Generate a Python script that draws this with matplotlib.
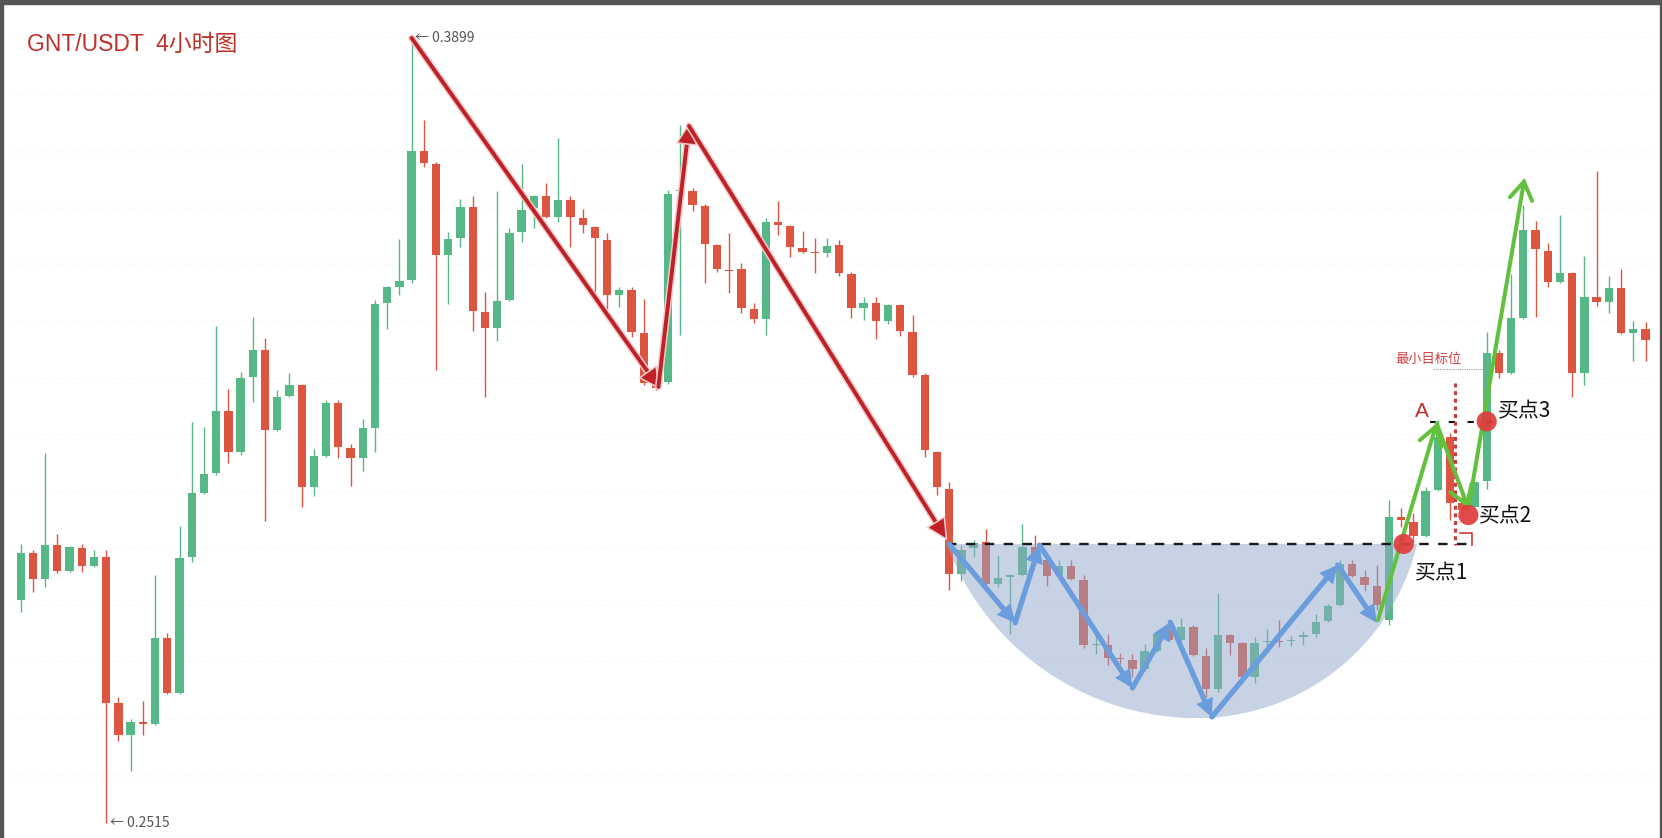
import matplotlib
matplotlib.use('Agg')
import matplotlib.pyplot as plt
import matplotlib.patheffects as pe
from matplotlib.patches import FancyArrowPatch, Polygon, Rectangle
import numpy as np

plt.rcParams['font.family'] = ['Noto Sans CJK SC', 'DejaVu Sans']

# GNT/USDT 4h candles
opens = [.2908, .2991, .2945, .3005, .2959, .3000, .2968, .2984, .2727, .2670,
         .2693, .2690, .2841, .2744, .2984, .3097, .3132, .3241, .3169, .3301,
         .3349, .3208, .3268, .3287, .3107, .3162, .3256, .3176, .3159, .3211,
         .3432, .3460, .3472, .3700, .3677, .3516, .3546, .3601, .3416, .3388,
         .3437, .3557, .3599, .3620, .3583, .3613, .3582, .3566, .3543, .3446,
         .3455, .3379, .3291, .3293, .3629, .3629, .3603, .3534, .3490, .3492,
         .3421, .3404, .3575, .3568, .3529, .3522, .3520, .3534, .3483, .3423,
         .3432, .3400, .3428, .3381, .3305, .3169, .3104, .2954, .3000, .3011,
         .2936, .2949, .2953, .3002, .2979, .2953, .2968, .2944, .2829, .2829,
         .2806, .2802, .2787, .2818, .2855, .2838, .2861, .2810, .2751, .2846,
         .2832, .2772, .2834, .2836, .2836, .2843, .2848, .2871, .2899, .2972,
         .2949, .2933, .2873, .3055, .3046, .3021, .3102, .3196, .3079, .3072,
         .3118, .3344, .3309, .3406, .3560, .3523, .3469, .3485, .3309, .3443,
         .3434, .3458, .3379, .3386]
highs = [.3007, .2996, .3167, .3025, .3003, .3007, .2996, .2996, .2737, .2698,
         .2730, .2952, .2850, .3039, .3222, .3213, .3391, .3280, .3310, .3407,
         .3370, .3278, .3308, .3289, .3175, .3261, .3261, .3183, .3227, .3437,
         .3462, .3545, .3899, .3754, .3680, .3557, .3615, .3620, .3451, .3629,
         .3564, .3677, .3622, .3643, .3723, .3620, .3598, .3568, .3555, .3460,
         .3460, .3439, .3296, .3631, .3746, .3635, .3606, .3536, .3555, .3502,
         .3432, .3582, .3612, .3570, .3559, .3546, .3546, .3543, .3487, .3442,
         .3442, .3430, .3430, .3411, .3309, .3171, .3116, .3005, .3014, .3033,
         .2988, .2953, .3042, .3023, .2981, .2979, .2979, .2953, .2848, .2848,
         .2815, .2813, .2831, .2854, .2873, .2876, .2864, .2824, .2921, .2848,
         .2834, .2843, .2857, .2873, .2845, .2854, .2884, .2901, .2979, .2979,
         .2961, .2970, .3085, .3070, .3062, .3107, .3226, .3203, .3093, .3118,
         .3381, .3349, .3483, .3605, .3576, .3538, .3587, .3487, .3515, .3665,
         .3479, .3492, .3400, .3399]
lows = [.2887, .2922, .2931, .2956, .2958, .2958, .2966, .2515, .2660, .2607,
        .2670, .2688, .2742, .2742, .2975, .3095, .3128, .3150, .3164, .3257,
        .3047, .3206, .3266, .3072, .3092, .3160, .3159, .3109, .3136, .3169,
        .3386, .3446, .3467, .3672, .3314, .3430, .3531, .3382, .3266, .3365,
        .3435, .3539, .3564, .3581, .3575, .3531, .3555, .3451, .3421, .3425,
        .3372, .3287, .3278, .3289, .3375, .3594, .3467, .3487, .3449, .3414,
        .3397, .3375, .3552, .3513, .3520, .3485, .3513, .3479, .3406, .3402,
        .3368, .3395, .3374, .3301, .3160, .3093, .2926, .2942, .2984, .2926,
        .2931, .2848, .2951, .2968, .2933, .2945, .2944, .2824, .2813, .2794,
        .2795, .2772, .2783, .2816, .2836, .2836, .2810, .2737, .2746, .2811,
        .2762, .2762, .2825, .2825, .2827, .2829, .2843, .2869, .2897, .2949,
        .2924, .2891, .2864, .3037, .3009, .3019, .3100, .3049, .3053, .3070,
        .3104, .3300, .3307, .3404, .3407, .3460, .3467, .3266, .3287, .3427,
        .3414, .3377, .3330, .3330]
closes = [.2991, .2945, .3005, .2959, .3002, .2968, .2984, .2727, .2670, .2693,
          .2690, .2841, .2744, .2982, .3097, .3130, .3241, .3169, .3300, .3349,
          .3208, .3266, .3287, .3107, .3162, .3256, .3178, .3159, .3211, .3430,
          .3460, .3471, .3700, .3679, .3516, .3545, .3601, .3418, .3388, .3435,
          .3555, .3596, .3620, .3583, .3613, .3583, .3569, .3546, .3446, .3455,
          .3381, .3291, .3282, .3624, .3631, .3605, .3536, .3492, .3488, .3423,
          .3404, .3575, .3569, .3531, .3522, .3520, .3532, .3485, .3423, .3432,
          .3400, .3428, .3382, .3305, .3173, .3107, .2954, .2996, .3009, .2936,
          .2947, .2951, .3002, .2980, .2951, .2968, .2945, .2829, .2831, .2806,
          .2804, .2787, .2818, .2848, .2838, .2861, .2811, .2751, .2846, .2832,
          .2772, .2832, .2836, .2834, .2838, .2846, .2869, .2898, .2972, .2951,
          .2935, .2899, .3055, .3049, .3021, .3100, .3196, .3079, .3067, .3116,
          .3344, .3309, .3406, .3560, .3527, .3469, .3485, .3309, .3443, .3434,
          .3458, .3379, .3386, .3367]

title = 'GNT/USDT  4小时图'
high_label = '← 0.3899'
low_label = '← 0.2515'
neck = 0.3007          # neckline of the cup
cup_low = 0.2700       # bottom of the bowl
a_level = 0.3222       # level of point A

# hand drawn swings (candle index, price)
red_path = [(32.0, 0.3899), (52.2, 0.3284), (54.7, 0.3744), (75.7, 0.3018)]
blue_path = [(76.0, 0.3007), (81.4, 0.2868), (83.4, 0.3005), (91.0, 0.2753),
             (94.1, 0.2869), (97.5, 0.2702), (107.8, 0.2970), (111.0, 0.2868)]
green_path = [(111.1, 0.2873), (115.9, 0.3220), (118.5, 0.3070), (123.1, 0.3652)]
buy_x = [113.2, 118.5, 120.0]
buy_y = [0.3007, 0.3058, 0.3223]
buy_text = ['买点1', '买点2', '买点3']

GREEN = '#55b886'
RED = '#dc5540'

fig = plt.figure(figsize=(16.62, 8.38), dpi=100)
ax = fig.add_axes([0, 0, 1, 1])
ax.set_xlim(-1.694, 134.35)
ax.set_ylim(0.24886, 0.3966)
ax.axis('off')

# faint price grid
for g in np.arange(0.26, 0.395, 0.01):
    ax.axhline(g, color='#f6f6f6', lw=0.8, ls=(0, (2, 3)), zorder=0)

# candles
x = np.arange(len(opens))
o = np.array(opens)
c = np.array(closes)
col = np.where(c >= o, GREEN, RED)
ax.vlines(x, lows, highs, colors=col, lw=1.0, zorder=2)
body = np.maximum(np.abs(c - o), 0.0003)
bottom = np.minimum(o, c) - (body - np.abs(c - o)) / 2
ax.bar(x, body, bottom=bottom, width=0.68, color=col, zorder=3)

# the cup: two circular arcs (worked out in pixel units so it looks round)
sx, sy = 12.217, 5672.0
mid = 96.3
def arc(half, side):
    cc = half * sx
    s = (neck - cup_low) * sy
    r = (cc**2 + s**2) / (2 * s)
    u = np.linspace(0, cc, 80)
    d = np.sqrt(r**2 - u**2) - (r - s)
    return mid + side * u / sx, neck - d / sy
lx, ly = arc(20.5, -1)
rx, ry = arc(18.0, 1)
pts = np.column_stack([np.concatenate([lx[::-1], rx]), np.concatenate([ly[::-1], ry])])
ax.add_patch(Polygon(pts, closed=True, facecolor='#91a9cd', edgecolor='none',
                     alpha=0.5, zorder=4))

# neckline
ax.plot([75.8, 118.8], [neck, neck], color='#1a1a1a', lw=1.7, ls=(0, (4, 4)), zorder=5)

def draw_path(path, color, lw, style, ms, effects=None, z=6):
    for p0, p1 in zip(path[:-1], path[1:]):
        arr = FancyArrowPatch(p0, p1, arrowstyle=style, mutation_scale=ms,
                              color=color, lw=lw, shrinkA=0, shrinkB=0,
                              joinstyle='miter', capstyle='round', zorder=z)
        if effects:
            arr.set_path_effects(effects)
        ax.add_patch(arr)

draw_path(blue_path, '#6b9ddc', 3.8, '-|>', 17, z=6)
draw_path(red_path, '#bf2127', 2.8, '-|>', 20,
          [pe.Stroke(linewidth=5, foreground='#f1caca'), pe.Normal()], z=6)
draw_path(green_path, '#62c13c', 2.9, '->,head_length=0.7,head_width=0.45', 18, z=7)

# A level, target and the red dotted guide
ax.plot([115.4, 121.2], [a_level, a_level], color='#111111', lw=1.5,
        ls=(0, (3, 6)), zorder=6)
ax.plot([117.4, 117.4], [0.3291, 0.3005], color='#d03a3a', lw=2.2,
        ls=(0, (1.3, 1.2)), zorder=6)
ax.plot([117.8, 118.8, 118.8], [0.3026, 0.3026, 0.3005], color='#d03a3a', lw=1.2, zorder=6)
ax.plot([115.6, 119.9], [0.3315, 0.3315], color='#999999', lw=0.8, ls=(0, (1, 1)), zorder=6)
ax.text(112.5, 0.3333, '最小目标位', color='#d04040', fontsize=9.5, va='center', zorder=8)
ax.text(114.1, 0.3240, 'A', color='#c0302a', fontsize=15, va='center', zorder=8,
        family=['Liberation Sans', 'DejaVu Sans'])

# buy points
ax.scatter(buy_x, buy_y, s=210, color='#e03c3c', alpha=0.92, edgecolors='none', zorder=8)
ax.text(114.1, 0.2956, buy_text[0], fontsize=15, va='center', color='#111111', zorder=8)
ax.text(119.4, 0.3055, buy_text[1], fontsize=15, va='center', color='#111111', zorder=8)
ax.text(120.9, 0.3240, buy_text[2], fontsize=15, va='center', color='#111111', zorder=8)

# extreme labels
ax.text(32.3, 0.3899, high_label, fontsize=10, color='#555555', va='center', zorder=8)
ax.text(7.3, 0.2515, low_label, fontsize=10, color='#555555', va='center', zorder=8)

fig.text(27 / 1662, 1 - 44 / 838, title, color='#c0302a', fontsize=16.5, va='center',
         family=['Liberation Sans', 'Noto Sans CJK SC'])

# dark screen frame
for r in [(0, 1 - 4 / 838, 1, 4 / 838), (0, 0, 3 / 1662, 1), (1 - 2 / 1662, 0, 2 / 1662, 1)]:
    fig.add_artist(Rectangle(r[:2], r[2], r[3], transform=fig.transFigure,
                             color='#555555', zorder=10))

fig.savefig('out.png', dpi=100)
